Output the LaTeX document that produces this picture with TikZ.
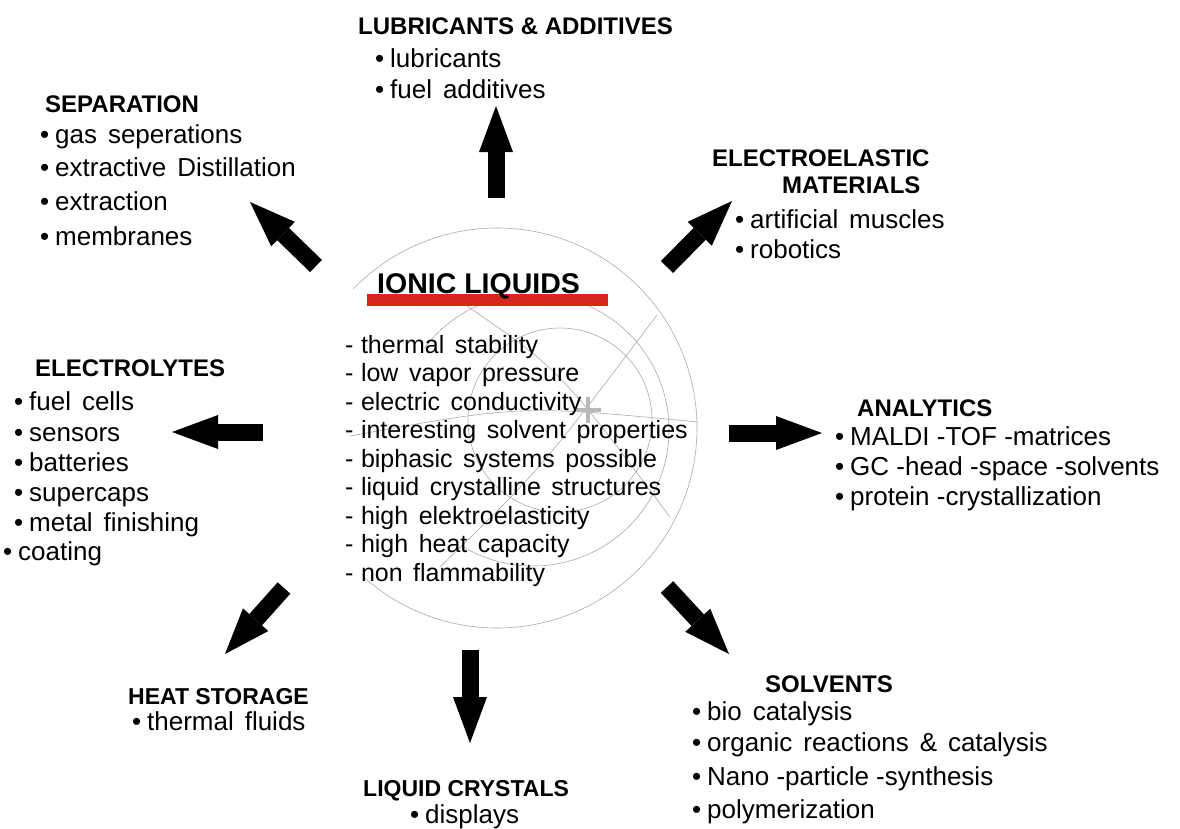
\documentclass[tikz,border=0pt]{standalone}
\usepackage{fontspec}
\setmainfont{Liberation Sans}
\usepackage{xcolor}
\usepackage{tikz}
\usetikzlibrary{arrows.meta}

\definecolor{barred}{RGB}{216,38,30}
\definecolor{globegray}{RGB}{170,170,170}
\newcommand{\bul}{\llap{\textbullet\hspace{6pt}}}
\newcommand{\dsh}{-\hspace{0.3em}}
\newcommand{\widesp}{\spaceskip=0.42em\relax}

\tikzset{
  head/.style={anchor=base west,inner sep=0pt,font=\fontsize{24}{28}\selectfont\bfseries},
  title/.style={anchor=base west,inner sep=0pt,font=\fontsize{28.5}{32}\selectfont\bfseries},
  item/.style={anchor=base west,inner sep=0pt,font=\fontsize{26}{30}\selectfont\widesp},
  itemh/.style={anchor=base west,inner sep=0pt,font=\fontsize{26}{30}\selectfont},
  prop/.style={anchor=base west,inner sep=0pt,font=\fontsize{25}{29}\selectfont\widesp},
  fat/.style={line width=17pt,-{Triangle[length=46pt,width=34pt,line width=0pt]}},
  globe/.style={globegray,line width=0.6pt}
}

\begin{document}
\begin{tikzpicture}[x=1pt,y=-1pt]
	\useasboundingbox (0,0) rectangle (1180,828);
	%
	%  GLOBE (background)
	%
	\coordinate (G1) at (497,428);
	\coordinate (G2) at (533,430);
	\coordinate (G3) at (560,420);
	\coordinate (X) at (588,410);
	\draw[globe] (G1) ++(-136:200) arc[start angle=-136,end angle=132,radius=200];
	\draw[globe] (G2) ++(-143:136) arc[start angle=-143,end angle=122,radius=136];
	\draw[globe] (G3) circle[radius=92];
	\draw[globe] (350,436) .. controls (520,405) .. (698,422);
	\draw[globe] (657,315) .. controls (540,470) .. (440,567);
	\draw[globe] (467,306) .. controls (560,370) .. (670,517);
	\draw[gray!55,line width=4pt] ([xshift=-13pt]X) -- ([xshift=13pt]X)
	                              ([yshift=-13pt]X) -- ([yshift=13pt]X);
	%
	%  CENTRE
	%
	\fill[barred] (367,294) rectangle (608,306);
	\node[title] (IL) at (377,293) {IONIC LIQUIDS};
	\node[prop] (P1) at (345,353) {\dsh thermal stability};
	\node[prop] (P2) at (345,381.5) {\dsh low vapor pressure};
	\node[prop] (P3) at (345,410) {\dsh electric conductivity};
	\node[prop] (P4) at (345,438.5) {\dsh interesting solvent properties};
	\node[prop] (P5) at (345,467) {\dsh biphasic systems possible};
	\node[prop] (P6) at (345,495.5) {\dsh liquid crystalline structures};
	\node[prop] (P7) at (345,524) {\dsh high elektroelasticity};
	\node[prop] (P8) at (345,552.5) {\dsh high heat capacity};
	\node[prop] (P9) at (345,581) {\dsh non flammability};
	%
	%  FIELDS
	%
	\node[head] (LUB) at (358,34) {LUBRICANTS \& ADDITIVES};
	\node[item] (L1) at (390,67) {\bul lubricants};
	\node[item] (L2) at (390,98) {\bul fuel additives};
	%
	\node[head] (SEP) at (45,112) {SEPARATION};
	\node[item] (S1) at (55,143) {\bul gas seperations};
	\node[item] (S2) at (55,176) {\bul extractive Distillation};
	\node[item] (S3) at (55,210) {\bul extraction};
	\node[item] (S4) at (55,245) {\bul membranes};
	%
	\node[head] (EEL) at (712,166) {ELECTROELASTIC};
	\node[head] (MAT) at (782,193) {MATERIALS};
	\node[item] (E1) at (750,228) {\bul artificial muscles};
	\node[item] (E2) at (750,258) {\bul robotics};
	%
	\node[head] (ELY) at (35,376) {ELECTROLYTES};
	\node[item] (Y1) at (29,410) {\bul fuel cells};
	\node[item] (Y2) at (29,441) {\bul sensors};
	\node[item] (Y3) at (29,471) {\bul batteries};
	\node[item] (Y4) at (29,501) {\bul supercaps};
	\node[item] (Y5) at (29,531) {\bul metal finishing};
	\node[item] (Y6) at (18,560) {\bul coating};
	%
	\node[head] (ANA) at (857,416) {ANALYTICS};
	\node[itemh] (A1) at (850,445) {\bul MALDI -TOF -matrices};
	\node[itemh] (A2) at (850,475) {\bul GC -head -space -solvents};
	\node[itemh] (A3) at (850,505) {\bul protein -crystallization};
	%
	\node[head,font=\fontsize{23}{27}\selectfont\bfseries] (HST) at (128,704) {HEAT STORAGE};
	\node[item] (H1) at (147,730) {\bul thermal fluids};
	%
	\node[head,font=\fontsize{23}{27}\selectfont\bfseries] (LCR) at (363,796) {LIQUID CRYSTALS};
	\node[item] (C1) at (425,823) {\bul displays};
	%
	\node[head] (SOL) at (765,692) {SOLVENTS};
	\node[item] (V1) at (707,720) {\bul bio catalysis};
	\node[item] (V2) at (707,751) {\bul organic reactions \& catalysis};
	\node[itemh] (V3) at (707,785) {\bul Nano -particle -synthesis};
	\node[item] (V4) at (707,818) {\bul polymerization};
	%
	%  ARROWS
	%
	\coordinate (n0) at (496,198);  \coordinate (n1) at (496,106);
	\coordinate (nw0) at (316,266); \coordinate (nw1) at (250,202);
	\coordinate (ne0) at (667,267); \coordinate (ne1) at (732,201);
	\coordinate (w0) at (263,432);  \coordinate (w1) at (172,432);
	\coordinate (e0) at (729,433);  \coordinate (e1) at (822,433);
	\coordinate (sw0) at (284,588); \coordinate (sw1) at (225,654);
	\coordinate (s0) at (470,650);  \coordinate (s1) at (470,743);
	\coordinate (se0) at (667,587); \coordinate (se1) at (729,654);
	\draw[fat] (n0) -- (n1);
	\draw[fat] (nw0) -- (nw1);
	\draw[fat] (ne0) -- (ne1);
	\draw[fat] (w0) -- (w1);
	\draw[fat] (e0) -- (e1);
	\draw[fat] (sw0) -- (sw1);
	\draw[fat] (s0) -- (s1);
	\draw[fat] (se0) -- (se1);
\end{tikzpicture}
\end{document}
